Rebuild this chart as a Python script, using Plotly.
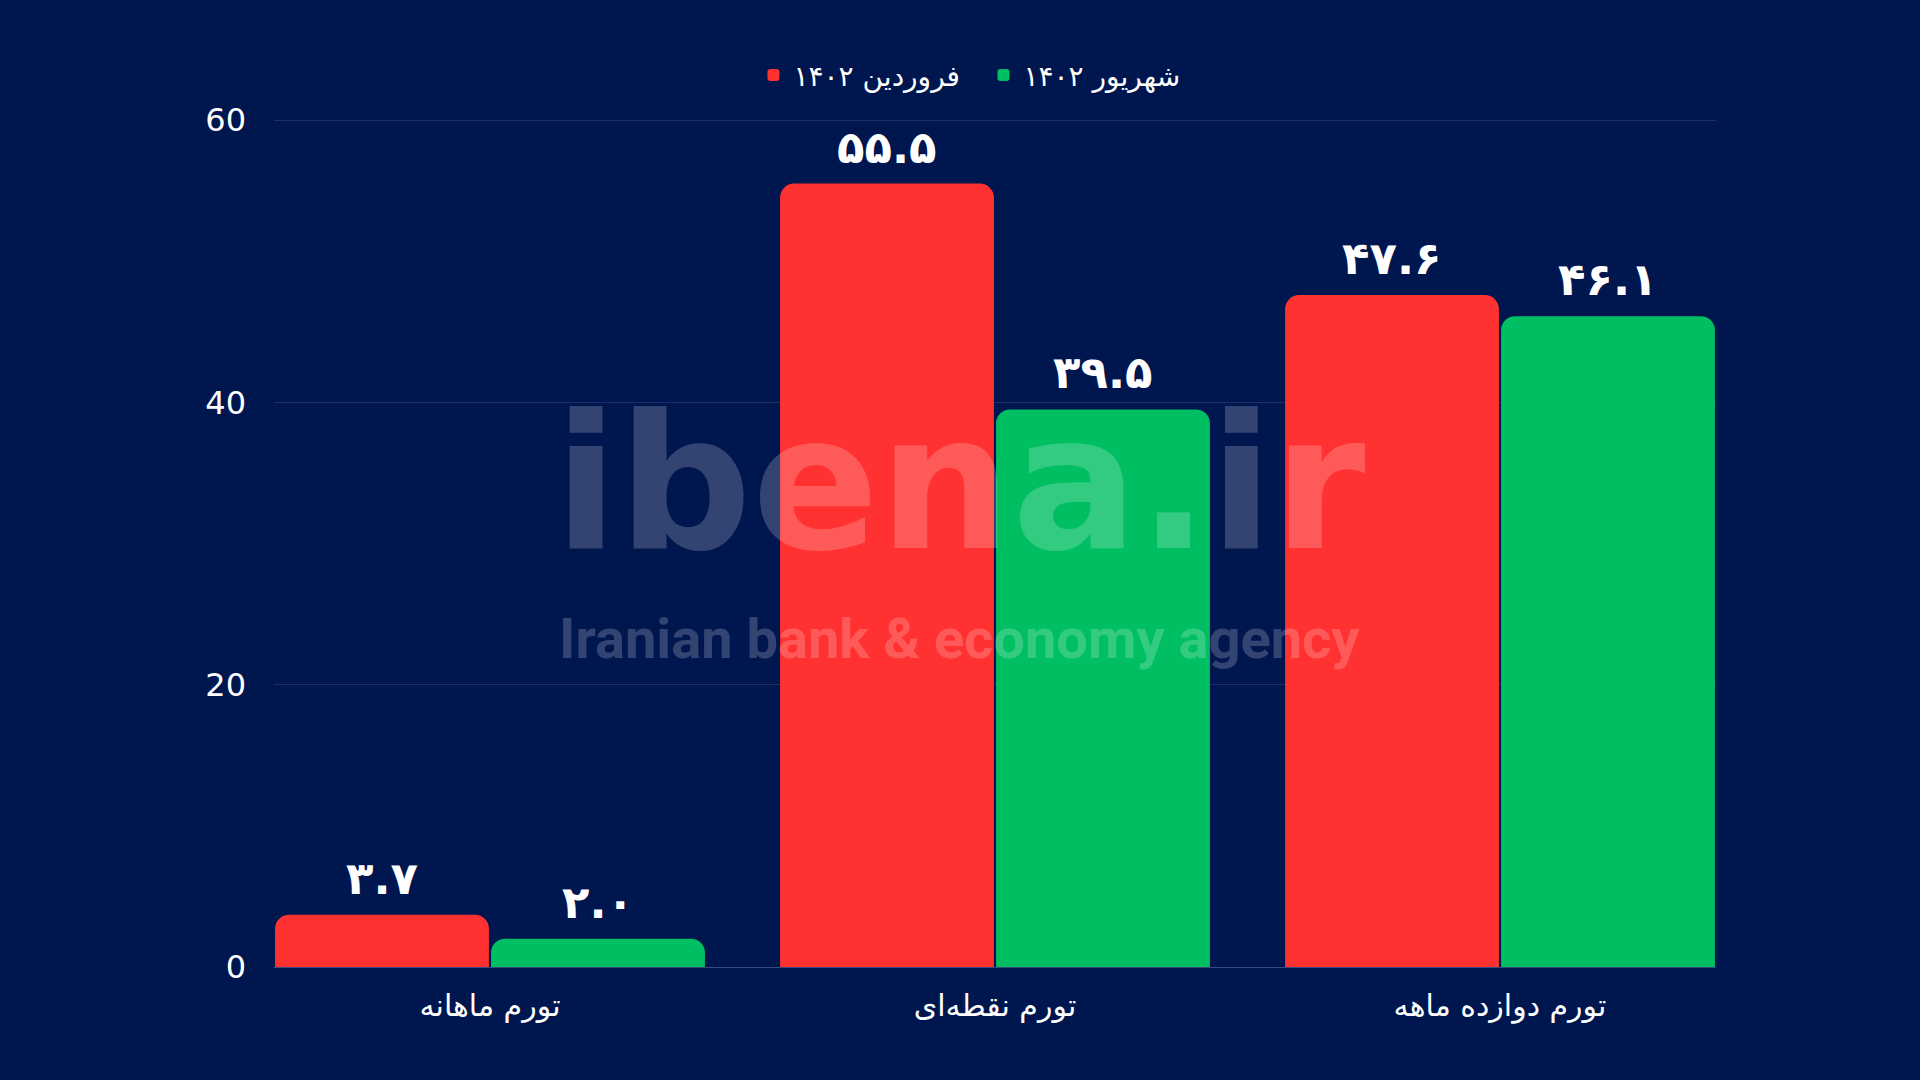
import plotly.graph_objects as go

categories = ["تورم ماهانه", "تورم نقطه‌ای", "تورم دوازده ماهه"]
series_names = ["فروردین ۱۴۰۲", "شهریور ۱۴۰۲"]
farvardin = [3.7, 55.5, 47.6]
shahrivar = [2.0, 39.5, 46.1]
y_ticks = [0, 20, 40, 60]

BG = "#00164F"
RED = "#FF3131"
GREEN = "#00BF63"

FA_DIGITS = str.maketrans("0123456789", "۰۱۲۳۴۵۶۷۸۹")


def fa(v):
    return f"{v:.1f}".translate(FA_DIGITS)


fig = go.Figure()
series = [(series_names[0], farvardin, RED, -1), (series_names[1], shahrivar, GREEN, 1)]
for name, vals, col, side in series:
    fig.add_trace(go.Bar(
        x=categories, y=vals, name=name,
        marker=dict(color=col, line=dict(width=0)),
    ))
    for c, v in zip(categories, vals):
        fig.add_annotation(x=c, y=v, xref="x", yref="y", text=fa(v), showarrow=False,
                           xanchor="center", yanchor="bottom", xshift=side * 108, yshift=8,
                           font=dict(family="DejaVu Sans", size=45, color="white", weight="bold"))

# watermark
fig.add_annotation(text="ibena.ir", xref="paper", yref="paper", x=0.4757, y=0.5667,
                   xanchor="center", yanchor="middle", showarrow=False,
                   font=dict(family="DejaVu Sans", size=187, color="rgba(255,255,255,0.2)", weight="bold"))
fig.add_annotation(text="Iranian bank & economy agency", xref="paper", yref="paper", x=0.4757, y=0.3837,
                   xanchor="center", yanchor="middle", showarrow=False,
                   font=dict(family="Roboto", size=56, color="rgba(255,255,255,0.2)", weight="bold"))

fig.update_layout(
    width=1920, height=1080,
    paper_bgcolor=BG, plot_bgcolor=BG,
    margin=dict(l=274, r=204, t=113, b=113),
    barmode="group", bargap=0.1446, bargroupgap=0.01, barcornerradius=14,
    font=dict(family="DejaVu Sans", color="white"),
    legend=dict(orientation="h", x=0.492, xanchor="center", y=1.044, yanchor="middle",
                font=dict(family="DejaVu Sans", size=28, color="white"),
                entrywidth=185, entrywidthmode="pixels",
                bgcolor="rgba(0,0,0,0)"),
    showlegend=True,
)
fig.update_xaxes(range=[-0.4277, 2.4277], showgrid=False, showline=True, linecolor="#3A4A80", linewidth=1,
                 tickfont=dict(family="DejaVu Sans", size=30, color="white"), ticks="", ticklabelstandoff=12)
fig.update_yaxes(range=[0, 60.5], tickvals=y_ticks, showgrid=True, gridcolor="#1F2E66", gridwidth=1,
                 zeroline=False, tickfont=dict(family="DejaVu Sans", size=32, color="white"),
                 ticklabelstandoff=27)

fig.write_html("out.html", config={"displayModeBar": False},
               post_script="document.body.style.margin='0';document.body.style.background='#00164F';")
